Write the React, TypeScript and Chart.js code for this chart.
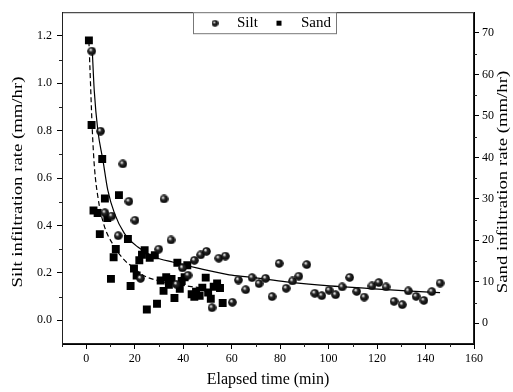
import React, { useEffect, useRef } from 'react';
import { Chart, registerables } from 'chart.js';

Chart.register(...registerables);

// ---- data ----
const siltTime = [2.3, 5.9, 7.7, 10.5, 13.2, 15.1, 17.6, 20.1, 22.4, 29.9, 32.1, 35.0, 37.2, 39.7, 42.0, 44.6, 47.2, 49.6, 51.9, 54.7, 57.4, 60.3, 62.8, 65.8, 68.4, 71.3, 74.0, 76.7, 79.6, 82.5, 85.1, 87.7, 91.0, 94.3, 97.2, 100.2, 102.9, 105.6, 108.7, 111.6, 114.7, 117.9, 120.7, 123.7, 127.0, 130.4, 132.9, 136.1, 139.3, 142.6, 146.0];
const siltRate = [1.136, 0.798, 0.454, 0.44, 0.357, 0.66, 0.502, 0.422, 0.177, 0.3, 0.512, 0.339, 0.152, 0.221, 0.19, 0.253, 0.276, 0.291, 0.053, 0.262, 0.271, 0.076, 0.17, 0.129, 0.18, 0.155, 0.177, 0.1, 0.24, 0.135, 0.166, 0.186, 0.235, 0.114, 0.104, 0.127, 0.108, 0.141, 0.181, 0.122, 0.098, 0.145, 0.159, 0.141, 0.08, 0.066, 0.124, 0.101, 0.084, 0.121, 0.157];

const sandTime = [1.1, 2.2, 3.0, 4.7, 5.6, 6.6, 7.7, 8.7, 10.2, 11.3, 12.2, 13.5, 17.2, 18.3, 19.7, 20.8, 21.9, 23.0, 24.1, 25.0, 26.2, 28.3, 29.2, 30.7, 31.9, 33.0, 34.1, 35.2, 36.4, 37.6, 38.6, 39.4, 40.6, 41.7, 43.5, 44.6, 45.3, 46.8, 47.9, 49.3, 50.3, 51.4, 52.6, 54.0, 55.2, 56.3];
const sandRate = [68.2, 47.8, 27.2, 26.6, 21.5, 39.6, 30.1, 25.4, 10.7, 15.9, 17.9, 30.9, 20.3, 9.0, 13.2, 11.5, 15.2, 16.5, 17.6, 3.3, 15.8, 16.4, 4.7, 10.3, 7.8, 11.1, 9.3, 10.7, 6.1, 14.6, 8.3, 10.2, 11.1, 14.0, 7.0, 6.4, 7.6, 6.6, 8.6, 11.0, 7.4, 5.9, 8.8, 9.6, 8.5, 4.9];

// fitted curves
const siltFitTime = [2.5, 3.3, 4.8, 6.9, 8.9, 11.7, 15.8, 21.3, 28.2, 36.0, 46.0, 59.0, 68.0, 82.6, 100.5, 117.1, 132.2, 146.0];
const siltFitRate = [1.136, 0.97, 0.80, 0.675, 0.549, 0.45, 0.366, 0.309, 0.267, 0.245, 0.22, 0.192, 0.182, 0.162, 0.145, 0.134, 0.124, 0.117];
const sandFitTime = [1.1, 1.5, 2.5, 3.4, 4.8, 7.0, 11.0, 15.8, 20.0, 23.4, 31.7, 41.5, 49.0];
const sandFitRate = [68.0, 62.0, 46.6, 37.5, 30.5, 24.3, 19.0, 15.2, 13.2, 11.6, 10.0, 9.0, 8.4];

const xTicks = [0, 20, 40, 60, 80, 100, 120, 140, 160];
const xMinorTicks = [-10, 10, 30, 50, 70, 90, 110, 130, 150];
const yTicks = [0, 0.2, 0.4, 0.6, 0.8, 1.0, 1.2];
const yMinorTicks = [0.1, 0.3, 0.5, 0.7, 0.9, 1.1];
const y1Ticks = [0, 10, 20, 30, 40, 50, 60, 70];
const y1MinorTicks = [5, 15, 25, 35, 45, 55, 65];

const FONT = "'Liberation Serif', 'Times New Roman', serif";

function makeSphere(d: number): HTMLCanvasElement {
  const c = document.createElement('canvas');
  c.width = d;
  c.height = d;
  const g = c.getContext('2d')!;
  const r = d / 2;
  const grad = g.createRadialGradient(r - d * 0.15, r - d * 0.18, 0.1, r, r, r);
  grad.addColorStop(0, '#ffffff');
  grad.addColorStop(0.16, '#c8c8c8');
  grad.addColorStop(0.38, '#2a2a2a');
  grad.addColorStop(1, '#000000');
  g.fillStyle = grad;
  g.beginPath();
  g.arc(r, r, r - 0.2, 0, Math.PI * 2);
  g.fill();
  return c;
}

const zip = (xs: number[], ys: number[]) => xs.map((x, i) => ({ x, y: ys[i] }));

export default function App() {
  const ref = useRef<HTMLCanvasElement | null>(null);

  useEffect(() => {
    document.body.style.margin = '0';
    const canvas = ref.current;
    if (!canvas) return;
    const sphere = makeSphere(9);
    const sphereSmall = makeSphere(7);

    const decorPlugin = {
      id: 'decor',
      afterDraw(chart: any) {
        const { ctx, chartArea } = chart;
        const { left, right, top, bottom } = chartArea;
        const xs = chart.scales.x;
        const ys = chart.scales.y;
        const y1s = chart.scales.y1;
        ctx.save();
        // frame
        ctx.strokeStyle = '#222';
        ctx.lineWidth = 1;
        ctx.strokeRect(left + 0.5, top + 0.5, right - left - 1, bottom - top - 1);
        // minor ticks
        ctx.beginPath();
        xMinorTicks.forEach((v) => {
          const p = Math.round(xs.getPixelForValue(v)) + 0.5;
          ctx.moveTo(p, bottom);
          ctx.lineTo(p, bottom + 3);
        });
        yMinorTicks.forEach((v) => {
          const p = Math.round(ys.getPixelForValue(v)) + 0.5;
          ctx.moveTo(left, p);
          ctx.lineTo(left - 3, p);
        });
        y1MinorTicks.forEach((v) => {
          const p = Math.round(y1s.getPixelForValue(v)) + 0.5;
          ctx.moveTo(right, p);
          ctx.lineTo(right + 3, p);
        });
        ctx.stroke();

        // axis titles
        ctx.fillStyle = '#000';
        ctx.font = `16px ${FONT}`;
        ctx.textAlign = 'center';
        ctx.textBaseline = 'middle';
        ctx.fillText('Elapsed time (min)', (left + right) / 2, 380);
        ctx.font = `15px ${FONT}`;
        ctx.save();
        ctx.translate(18, 182);
        ctx.rotate(-Math.PI / 2);
        ctx.scale(1.25, 1);
        ctx.fillText('Silt infiltration rate (mm/hr)', 0, 0);
        ctx.restore();
        ctx.save();
        ctx.translate(503, 182);
        ctx.rotate(-Math.PI / 2);
        ctx.scale(1.25, 1);
        ctx.fillText('Sand infiltration rate (mm/hr)', 0, 0);
        ctx.restore();

        // legend
        const lx = 193, ly = top, lw = 143, lh = 21;
        ctx.fillStyle = '#fff';
        ctx.fillRect(lx, ly, lw, lh);
        ctx.strokeStyle = '#777';
        ctx.strokeRect(lx + 0.5, ly + 0.5, lw, lh);
        const cy = ly + lh / 2 + 0.5;
        ctx.drawImage(sphereSmall, 215 - 3.5, cy - 3.5);
        ctx.fillStyle = '#000';
        ctx.fillRect(279 - 2.5, cy - 2.5, 5, 5);
        ctx.textAlign = 'left';
        ctx.font = `15px ${FONT}`;
        ctx.fillText(chart.data.datasets[0].label, 237, cy);
        ctx.fillText(chart.data.datasets[1].label, 301, cy);
        ctx.restore();
      },
    };

    const tickFont = { family: FONT, size: 12 };

    const chart = new Chart(canvas, {
      type: 'scatter',
      data: {
        datasets: [
          {
            label: 'Silt',
            data: zip(siltTime, siltRate),
            yAxisID: 'y',
            pointStyle: sphere as any,
            pointRadius: 4.5,
            backgroundColor: '#000',
            borderColor: '#000',
            showLine: false,
            order: 1,
          },
          {
            label: 'Sand',
            data: zip(sandTime, sandRate),
            yAxisID: 'y1',
            pointStyle: 'rect',
            pointRadius: 5.6,
            backgroundColor: '#000',
            borderColor: '#000',
            borderWidth: 0,
            showLine: false,
            order: 2,
          },
          {
            label: 'Silt fit',
            type: 'line',
            data: zip(siltFitTime, siltFitRate),
            yAxisID: 'y',
            borderColor: '#000',
            borderWidth: 1.2,
            pointRadius: 0,
            cubicInterpolationMode: 'monotone',
            fill: false,
            order: 3,
          } as any,
          {
            label: 'Sand fit',
            type: 'line',
            data: zip(sandFitTime, sandFitRate),
            yAxisID: 'y1',
            borderColor: '#000',
            borderWidth: 1.2,
            borderDash: [5, 3],
            pointRadius: 0,
            cubicInterpolationMode: 'monotone',
            fill: false,
            order: 4,
          } as any,
        ],
      },
      options: {
        responsive: false,
        animation: false,
        layout: { padding: { top: 12, left: 0, right: 0, bottom: 0 } },
        plugins: {
          legend: { display: false },
          tooltip: { enabled: false },
        },
        scales: {
          x: {
            type: 'linear',
            position: 'bottom',
            min: -10,
            max: 160,
            afterBuildTicks: (s: any) => {
              s.ticks = xTicks.map((v) => ({ value: v }));
            },
            afterFit: (s: any) => {
              s.height = 48;
            },
            grid: { drawOnChartArea: false, drawTicks: true, tickLength: 5, color: '#000' },
            border: { color: '#000' },
            ticks: { font: tickFont, color: '#000', padding: 3, maxRotation: 0 },
          },
          y: {
            type: 'linear',
            position: 'left',
            min: -0.1,
            max: 1.3,
            afterBuildTicks: (s: any) => {
              s.ticks = yTicks.map((v) => ({ value: v }));
            },
            afterFit: (s: any) => {
              s.width = 62;
            },
            grid: { drawOnChartArea: false, drawTicks: true, tickLength: 5, color: '#000' },
            border: { color: '#000' },
            ticks: {
              font: tickFont,
              color: '#000',
              padding: 5,
              callback: (v: any) => Number(v).toFixed(1),
            },
          },
          y1: {
            type: 'linear',
            position: 'right',
            min: -5,
            max: 75,
            afterBuildTicks: (s: any) => {
              s.ticks = y1Ticks.map((v) => ({ value: v }));
            },
            afterFit: (s: any) => {
              s.width = 39;
            },
            grid: { drawOnChartArea: false, drawTicks: true, tickLength: 5, color: '#000' },
            border: { color: '#000' },
            ticks: { font: tickFont, color: '#000', padding: 3 },
          },
        },
      },
      plugins: [decorPlugin],
    } as any);

    return () => chart.destroy();
  }, []);

  return <canvas ref={ref} width={513} height={392} style={{ display: 'block' }} />;
}
